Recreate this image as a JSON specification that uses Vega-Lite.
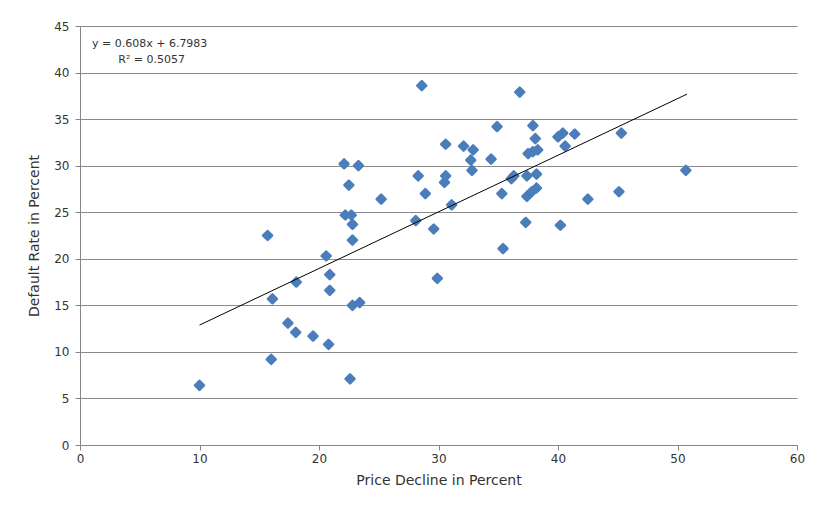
{
  "$schema": "https://vega.github.io/schema/vega-lite/v6.json",
  "autosize": {"type": "none"},
  "width": 717,
  "height": 419,
  "padding": {"left": 80, "top": 26, "right": 17, "bottom": 69},
  "background": "white",
  "config": {
    "view": {"stroke": null},
    "font": "DejaVu Sans",
    "axis": {
      "labelFont": "DejaVu Sans",
      "titleFont": "DejaVu Sans",
      "labelFontSize": 12,
      "titleFontSize": 14,
      "titleFontWeight": "normal",
      "labelColor": "#333333",
      "titleColor": "#333333",
      "domainColor": "#868686",
      "tickColor": "#868686",
      "gridColor": "#8a8a8a",
      "gridOpacity": 1,
      "labelFlush": false
    }
  },
  "datasets": {
    "points": [
      {"decline": 10.0, "rate": 6.4},
      {"decline": 15.7, "rate": 22.5},
      {"decline": 16.1, "rate": 15.7},
      {"decline": 16.0, "rate": 9.2},
      {"decline": 17.4, "rate": 13.1},
      {"decline": 18.05, "rate": 12.1},
      {"decline": 18.1, "rate": 17.5},
      {"decline": 19.5, "rate": 11.7},
      {"decline": 20.6, "rate": 20.3},
      {"decline": 20.9, "rate": 18.3},
      {"decline": 20.9, "rate": 16.6},
      {"decline": 20.8, "rate": 10.8},
      {"decline": 22.1, "rate": 30.2},
      {"decline": 23.3, "rate": 30.0},
      {"decline": 22.5, "rate": 27.9},
      {"decline": 25.2, "rate": 26.4},
      {"decline": 22.2, "rate": 24.7},
      {"decline": 22.7, "rate": 24.7},
      {"decline": 22.8, "rate": 23.7},
      {"decline": 22.8, "rate": 22.0},
      {"decline": 22.8, "rate": 15.0},
      {"decline": 23.4, "rate": 15.3},
      {"decline": 22.6, "rate": 7.1},
      {"decline": 28.6, "rate": 38.6},
      {"decline": 36.8, "rate": 37.9},
      {"decline": 34.9, "rate": 34.2},
      {"decline": 37.9, "rate": 34.3},
      {"decline": 38.1, "rate": 32.9},
      {"decline": 40.4, "rate": 33.5},
      {"decline": 40.0, "rate": 33.1},
      {"decline": 41.4, "rate": 33.4},
      {"decline": 40.6, "rate": 32.1},
      {"decline": 45.3, "rate": 33.5},
      {"decline": 30.6, "rate": 32.3},
      {"decline": 32.1, "rate": 32.1},
      {"decline": 32.9, "rate": 31.7},
      {"decline": 32.7, "rate": 30.6},
      {"decline": 32.8, "rate": 29.5},
      {"decline": 34.4, "rate": 30.7},
      {"decline": 37.5, "rate": 31.3},
      {"decline": 37.9, "rate": 31.5},
      {"decline": 38.3, "rate": 31.7},
      {"decline": 28.3, "rate": 28.9},
      {"decline": 30.6, "rate": 28.9},
      {"decline": 30.5, "rate": 28.2},
      {"decline": 28.9, "rate": 27.0},
      {"decline": 31.1, "rate": 25.8},
      {"decline": 28.1, "rate": 24.1},
      {"decline": 29.6, "rate": 23.2},
      {"decline": 29.9, "rate": 17.9},
      {"decline": 35.4, "rate": 21.1},
      {"decline": 35.3, "rate": 27.0},
      {"decline": 36.3, "rate": 28.9},
      {"decline": 36.1, "rate": 28.6},
      {"decline": 37.4, "rate": 28.9},
      {"decline": 38.2, "rate": 29.1},
      {"decline": 37.4, "rate": 26.7},
      {"decline": 37.8, "rate": 27.2},
      {"decline": 38.2, "rate": 27.6},
      {"decline": 37.3, "rate": 23.9},
      {"decline": 40.2, "rate": 23.6},
      {"decline": 42.5, "rate": 26.4},
      {"decline": 45.1, "rate": 27.2},
      {"decline": 50.7, "rate": 29.5}
    ],
    "trend": [
      {"decline": 10.0, "rate": 12.878},
      {"decline": 50.8, "rate": 37.685}
    ],
    "labels": [
      {"decline": 1.0, "rate": 43.1, "text": "y = 0.608x + 6.7983"},
      {"decline": 3.2, "rate": 41.35, "text": "R² = 0.5057"}
    ]
  },
  "layer": [
    {
      "data": {"name": "points"},
      "mark": {
        "type": "point",
        "shape": "diamond",
        "filled": true,
        "size": 80,
        "color": "#4a7ebb",
        "stroke": "#4a7ebb",
        "strokeWidth": 2.5,
        "strokeJoin": "round",
        "opacity": 1
      },
      "encoding": {
        "x": {
          "field": "decline",
          "type": "quantitative",
          "scale": {"domain": [0, 60], "nice": false, "zero": false},
          "axis": {
            "title": "Price Decline in Percent",
            "values": [0, 10, 20, 30, 40, 50, 60],
            "grid": false,
            "tickSize": 5,
            "labelPadding": 3,
            "titlePadding": 9
          }
        },
        "y": {
          "field": "rate",
          "type": "quantitative",
          "scale": {"domain": [0, 45], "nice": false},
          "axis": {
            "title": "Default Rate in Percent",
            "values": [0, 5, 10, 15, 20, 25, 30, 35, 40, 45],
            "grid": true,
            "tickSize": 5,
            "labelPadding": 6,
            "titlePadding": 12
          }
        }
      }
    },
    {
      "data": {"name": "trend"},
      "mark": {"type": "line", "color": "#000000", "strokeWidth": 1},
      "encoding": {
        "x": {"field": "decline", "type": "quantitative"},
        "y": {"field": "rate", "type": "quantitative"}
      }
    },
    {
      "data": {"name": "labels"},
      "mark": {
        "type": "text",
        "align": "left",
        "baseline": "middle",
        "font": "DejaVu Sans",
        "fontSize": 11,
        "color": "#333333"
      },
      "encoding": {
        "x": {"field": "decline", "type": "quantitative"},
        "y": {"field": "rate", "type": "quantitative"},
        "text": {"field": "text"}
      }
    }
  ]
}
